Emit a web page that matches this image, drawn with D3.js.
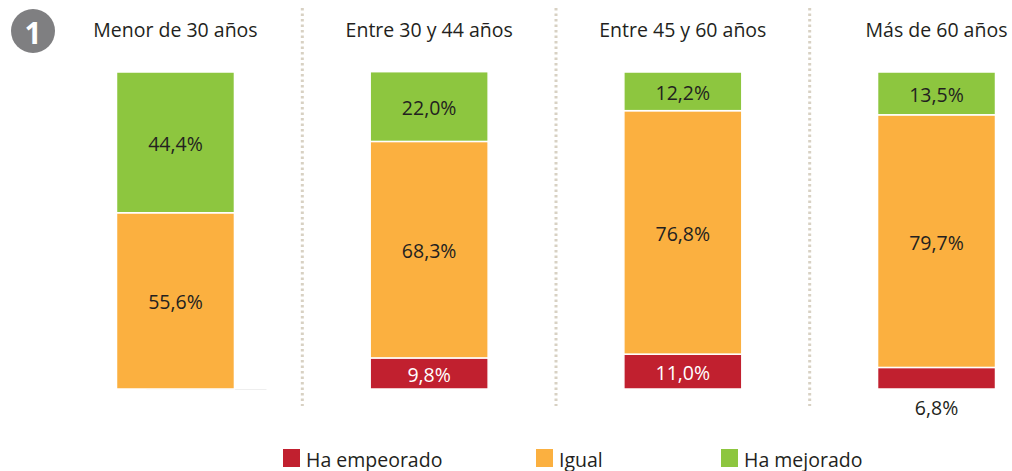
<!DOCTYPE html>
<html>
<head>
<meta charset="utf-8">
<script src="https://cdn.jsdelivr.net/npm/d3@7"></script>
<style>
  body { margin: 0; background: #fff; }
  text { font-family: "Open Sans", "Noto Sans", sans-serif; }
</style>
</head>
<body>
<svg id="chart"></svg>
<script>
// data
const groups = ["Menor de 30 años", "Entre 30 y 44 años", "Entre 45 y 60 años", "Más de 60 años"];
const series = ["Ha empeorado", "Igual", "Ha mejorado"];
const empeorado = [0, 9.8, 11.0, 6.8];
const igual = [55.6, 68.3, 76.8, 79.7];
const mejorado = [44.4, 22.0, 12.2, 13.5];

const colors = { "Ha empeorado": "#c1202f", "Igual": "#fbb040", "Ha mejorado": "#8dc63f" };

const width = 1012, height = 471;
const svg = d3.select("#chart").attr("width", width).attr("height", height);

const rows = groups.map((g, i) => ({
  group: g,
  "Ha empeorado": empeorado[i],
  "Igual": igual[i],
  "Ha mejorado": mejorado[i]
}));

const x = d3.scaleBand().domain(groups).range([48, 1064]).paddingInner(0.535).paddingOuter(0.27);
const y = d3.scaleLinear().domain([0, 100]).range([389, 72]);

const stack = d3.stack().keys(series);
const layers = stack(rows);

// number badge
svg.append("circle").attr("cx", 33).attr("cy", 31).attr("r", 22).attr("fill", "#7f7f81");
svg.append("text").attr("x", 33).attr("y", 32)
  .attr("text-anchor", "middle").attr("dominant-baseline", "central")
  .attr("font-size", 30).attr("font-weight", "bold").attr("fill", "#fff").text("1");

// dotted separators
const seps = groups.slice(1).map(g => x(g) - x.step() * x.paddingInner() / 2);
svg.selectAll(".sep").data(seps).join("line")
  .attr("class", "sep")
  .attr("x1", d => d).attr("x2", d => d)
  .attr("y1", 8).attr("y2", 406)
  .attr("stroke", "#d8d1c3").attr("stroke-width", 3)
  .attr("stroke-dasharray", "2.5,3");

// titles
svg.selectAll(".title").data(groups).join("text")
  .attr("class", "title")
  .attr("x", d => x(d) + x.bandwidth() / 2)
  .attr("y", 37)
  .attr("text-anchor", "middle")
  .attr("font-size", 19.5)
  .attr("fill", "#231f20")
  .text(d => d);

// baseline under first bar
svg.append("line")
  .attr("x1", x(groups[0]) + 30).attr("x2", x(groups[0]) + 150)
  .attr("y1", y(0) + 0.5).attr("y2", y(0) + 0.5)
  .attr("stroke", "#eeeeee").attr("stroke-width", 1);

// bars
const layerG = svg.selectAll(".layer").data(layers).join("g")
  .attr("class", "layer")
  .attr("fill", d => colors[d.key]);

layerG.selectAll("rect").data(d => d.map(s => ({ key: d.key, s: s }))).join("rect")
  .attr("x", d => x(d.s.data.group))
  .attr("y", d => y(d.s[1]))
  .attr("width", x.bandwidth())
  .attr("height", d => Math.max(0, y(d.s[0]) - y(d.s[1])))
  .attr("stroke", "#fff")
  .attr("stroke-width", d => d.s[1] - d.s[0] > 0 ? 1.5 : 0);

// value labels
const fmt = v => d3.format(".1f")(v).replace(".", ",") + "%";
layerG.selectAll("text").data(d => d.map(s => ({ key: d.key, s: s })).filter(d => d.s[1] - d.s[0] > 0)).join("text")
  .attr("x", d => x(d.s.data.group) + x.bandwidth() / 2)
  .attr("y", d => {
    const h = y(d.s[0]) - y(d.s[1]);
    return h < 26 ? y(d.s[0]) + 18 : (y(d.s[0]) + y(d.s[1])) / 2 + 1;
  })
  .attr("text-anchor", "middle")
  .attr("dominant-baseline", "central")
  .attr("font-size", 19.5)
  .attr("fill", d => {
    const h = y(d.s[0]) - y(d.s[1]);
    return d.key === "Ha empeorado" && h >= 26 ? "#fff" : "#231f20";
  })
  .text(d => fmt(d.s[1] - d.s[0]));

// legend
const legendX = [283, 536, 721];
const legend = svg.selectAll(".legend").data(series).join("g")
  .attr("class", "legend")
  .attr("transform", (d, i) => `translate(${legendX[i]},449)`);
legend.append("rect").attr("width", 17).attr("height", 18).attr("fill", d => colors[d]);
legend.append("text").attr("x", 23).attr("y", 10)
  .attr("dominant-baseline", "central")
  .attr("font-size", 19.5).attr("fill", "#231f20")
  .text(d => d);
</script>
</body>
</html>
